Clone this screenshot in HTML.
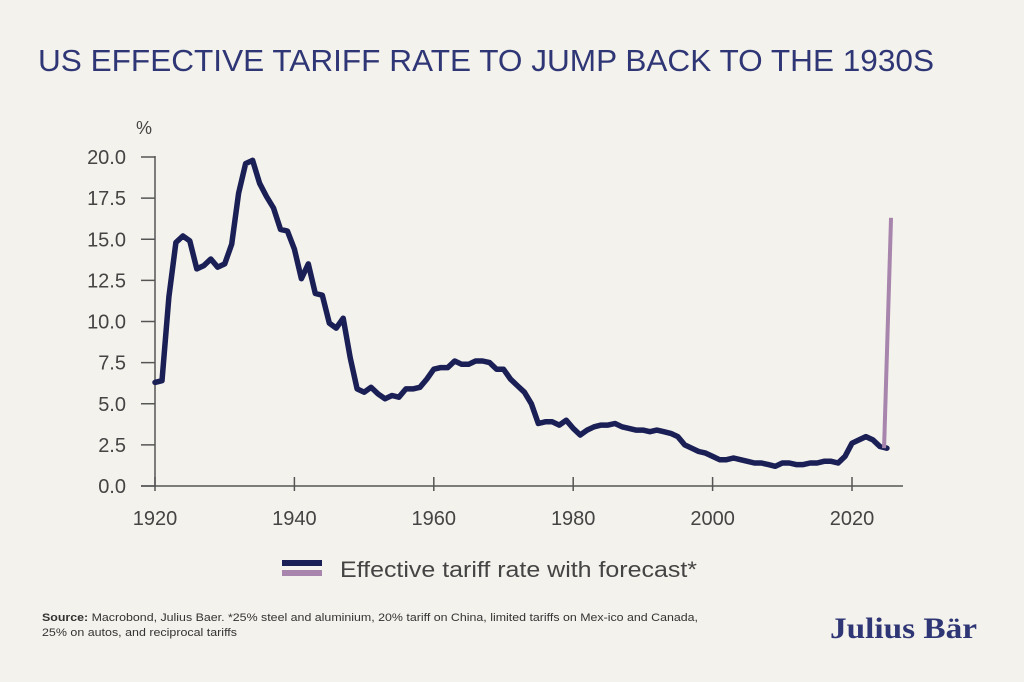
<!DOCTYPE html>
<html><head><meta charset="utf-8"><style>
body{margin:0;width:1024px;height:682px;background:#f4f2ec;overflow:hidden;font-family:"Liberation Sans",sans-serif}
</style></head><body>
<svg width="1024" height="682" xmlns="http://www.w3.org/2000/svg" style="position:absolute;left:0;top:0">
<text x="38" y="71" font-size="30.5" fill="#2f3675" textLength="896" lengthAdjust="spacingAndGlyphs" font-family="Liberation Sans">US EFFECTIVE TARIFF RATE TO JUMP BACK TO THE 1930S</text>
<text x="136" y="134" font-size="18" fill="#444">%</text>
<g stroke="#555" stroke-width="1.5" fill="none">
<line x1="155" y1="156" x2="155" y2="487"/>
<line x1="141" y1="486" x2="903" y2="486"/>
<g id="yt"></g><g id="xt"></g>
</g>
<g id="labels" font-size="20" fill="#444"></g>
<polyline id="main" fill="none" stroke="#1a1f56" stroke-width="5.5" stroke-linejoin="round" stroke-linecap="round"/>
<line id="fc" stroke="#a785ad" stroke-width="4"/>
<rect x="282" y="560" width="40" height="6" fill="#1a1f56"/>
<rect x="282" y="570" width="40" height="6" fill="#a785ad"/>
<text x="340" y="577" font-size="22" fill="#444" textLength="357" lengthAdjust="spacingAndGlyphs">Effective tariff rate with forecast*</text>
<text x="42" y="621" font-size="11" fill="#333" textLength="656" lengthAdjust="spacingAndGlyphs"><tspan font-weight="bold">Source:</tspan> Macrobond, Julius Baer. *25% steel and aluminium, 20% tariff on China, limited tariffs on Mex-ico and Canada,</text>
<text x="42" y="636" font-size="11" fill="#333" textLength="195" lengthAdjust="spacingAndGlyphs">25% on autos, and reciprocal tariffs</text>
<text x="830" y="638" font-size="30" fill="#2f3675" font-weight="bold" font-family="Liberation Serif" textLength="147" lengthAdjust="spacingAndGlyphs">Julius Bär</text>
</svg>
<script>
var v=[6.3,6.4,11.5,14.8,15.2,14.9,13.2,13.4,13.8,13.3,13.5,14.7,17.8,19.6,19.8,18.4,17.6,16.9,15.6,15.5,14.4,12.6,13.5,11.7,11.6,9.9,9.6,10.2,7.8,5.9,5.7,6.0,5.6,5.3,5.5,5.4,5.9,5.9,6.0,6.5,7.1,7.2,7.2,7.6,7.4,7.4,7.6,7.6,7.5,7.1,7.1,6.5,6.1,5.7,5.0,3.8,3.9,3.9,3.7,4.0,3.5,3.1,3.4,3.6,3.7,3.7,3.8,3.6,3.5,3.4,3.4,3.3,3.4,3.3,3.2,3.0,2.5,2.3,2.1,2.0,1.8,1.6,1.6,1.7,1.6,1.5,1.4,1.4,1.3,1.2,1.4,1.4,1.3,1.3,1.4,1.4,1.5,1.5,1.4,1.8,2.6,2.8,3.0,2.8,2.4,2.3];
function X(y){return 155+(y-1920)*6.97}function Y(v){return 486-v*16.45}
var p=v.map(function(a,i){return X(1920+i).toFixed(1)+","+Y(a).toFixed(1)}).join(" ");
document.getElementById("main").setAttribute("points",p);
var f=document.getElementById("fc");f.setAttribute("x1",X(2024.6));f.setAttribute("y1",Y(2.3));f.setAttribute("x2",X(2025.6));f.setAttribute("y2",Y(16.3));
var ns="http://www.w3.org/2000/svg",yt=document.getElementById("yt"),xt=document.getElementById("xt"),lb=document.getElementById("labels");
for(var i=0;i<=8;i++){var y=Y(i*2.5);var l=document.createElementNS(ns,"line");l.setAttribute("x1",141);l.setAttribute("x2",155);l.setAttribute("y1",y);l.setAttribute("y2",y);yt.appendChild(l);
var t=document.createElementNS(ns,"text");t.setAttribute("x",126);t.setAttribute("y",y+7);t.setAttribute("text-anchor","end");t.textContent=(i*2.5).toFixed(1);lb.appendChild(t);}
for(var yr=1920;yr<=2020;yr+=20){var x=X(yr);var l=document.createElementNS(ns,"line");l.setAttribute("x1",x);l.setAttribute("x2",x);l.setAttribute("y1",477);l.setAttribute("y2",491);xt.appendChild(l);
var t=document.createElementNS(ns,"text");t.setAttribute("x",x);t.setAttribute("y",525);t.setAttribute("text-anchor","middle");t.textContent=yr;lb.appendChild(t);}
</script>
</body></html>
